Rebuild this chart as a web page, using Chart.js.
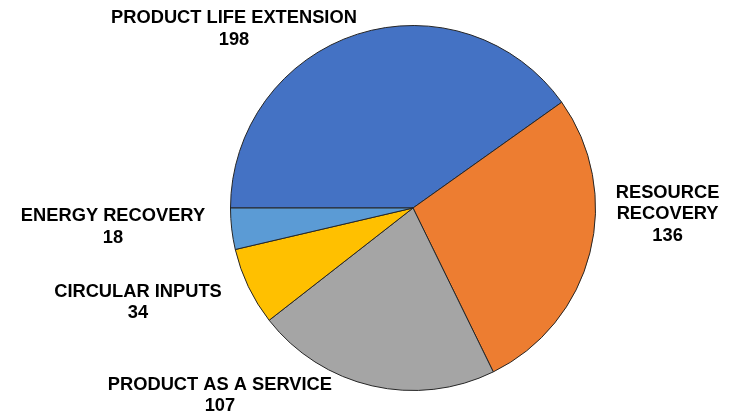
<!DOCTYPE html>
<html>
<head>
<meta charset="utf-8">
<script src="https://cdn.jsdelivr.net/npm/chart.js@4"></script>
<style>
    html, body { margin: 0; padding: 0; background: #fff; }
    #wrap { width: 735px; height: 414px; }
</style>
</head>
<body>
<div id="wrap"><canvas id="pie-chart"></canvas></div>
<script>
const categories = [['PRODUCT LIFE EXTENSION'], ['RESOURCE', 'RECOVERY'], ['PRODUCT AS A SERVICE'], ['CIRCULAR INPUTS'], ['ENERGY RECOVERY']];
const counts = [198, 136, 107, 34, 18];
const sliceColors = ['#4472C4', '#ED7D31', '#A5A5A5', '#FFC000', '#5B9BD5'];

// label block centres, in units of the pie radius from its centre
const labelSpots = [[-0.981, -0.981], [1.395, 0.033], [-1.058, 1.027], [-1.507, 0.518], [-1.644, 0.104]];

const outsideLabels = {
    id: 'outsideLabels',
    afterDatasetsDraw(chart) {
        const ctx = chart.ctx;
        const arcs = chart.getDatasetMeta(0).data;
        ctx.save();
        ctx.font = 'bold 18.3px "Liberation Sans", Arial, sans-serif';
        ctx.fillStyle = '#000';
        ctx.textAlign = 'center';
        ctx.textBaseline = 'middle';
        const lineH = 21.5;
        arcs.forEach((arc, i) => {
            const r = arc.outerRadius;
            const cx = arc.x + labelSpots[i][0] * r;
            const cy = arc.y + labelSpots[i][1] * r;
            const lines = categories[i].concat([String(counts[i])]);
            const top = cy - (lines.length - 1) * lineH / 2;
            lines.forEach((line, k) => ctx.fillText(line, cx, top + k * lineH));
        });
        ctx.restore();
    }
};

new Chart(document.getElementById('pie-chart').getContext('2d'), {
    type: 'pie',
    data: {
        labels: categories,
        datasets: [{
            data: counts,
            backgroundColor: sliceColors,
            borderColor: '#262626',
            borderWidth: 1
        }]
    },
    options: {
        responsive: true,
        maintainAspectRatio: false,
        animation: false,
        rotation: -90,
        layout: { padding: { left: 230, right: 139, top: 25, bottom: 23 } },
        plugins: {
            legend: { display: false },
            tooltip: { enabled: false }
        }
    },
    plugins: [outsideLabels]
});
</script>
</body>
</html>
